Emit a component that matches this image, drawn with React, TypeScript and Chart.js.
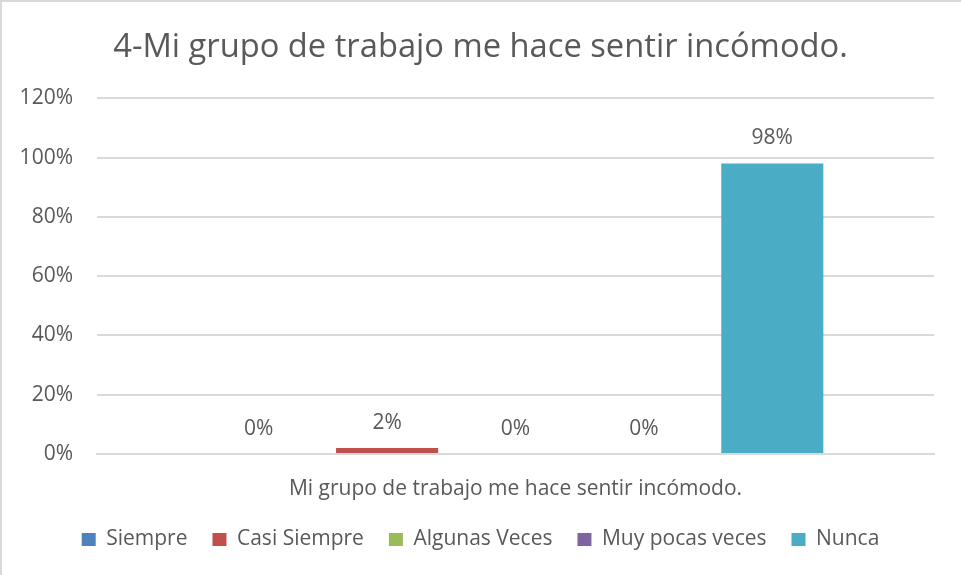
import React, { useEffect, useRef } from "react";
import { Chart, registerables } from "chart.js";

Chart.register(...registerables);

const TITLE = "4-Mi grupo de trabajo me hace sentir incómodo.";
const categories = ["Mi grupo de trabajo me hace sentir incómodo."];
const seriesNames = ["Siempre", "Casi Siempre", "Algunas Veces", "Muy pocas veces", "Nunca"];
const seriesValues = [0, 2, 0, 0, 98];
const seriesColors = ["#4F81BD", "#C0504D", "#9BBB59", "#8064A2", "#4BACC6"];
const yTicks = [0, 20, 40, 60, 80, 100, 120];

const FONT = "'Open Sans', 'Liberation Sans', sans-serif";
const TEXT = "#595959";

const dataLabels = {
  id: "dataLabels",
  afterDatasetsDraw(chart: any) {
    const ctx = chart.ctx;
    ctx.save();
    ctx.fillStyle = TEXT;
    ctx.font = `21px ${FONT}`;
    ctx.textAlign = "center";
    ctx.textBaseline = "middle";
    chart.data.datasets.forEach((ds: any, i: number) => {
      const meta = chart.getDatasetMeta(i);
      meta.data.forEach((bar: any, j: number) => {
        ctx.fillText(`${ds.data[j]}%`, bar.x, bar.y - 25);
      });
    });
    ctx.restore();
  },
};

const frame = {
  id: "frame",
  beforeDraw(chart: any) {
    const ctx = chart.ctx;
    ctx.save();
    ctx.fillStyle = "#ffffff";
    ctx.fillRect(0, 0, chart.width, chart.height);
    ctx.strokeStyle = "#d9d9d9";
    ctx.lineWidth = 2;
    ctx.beginPath();
    ctx.moveTo(1, chart.height);
    ctx.lineTo(1, 1);
    ctx.lineTo(chart.width, 1);
    ctx.stroke();
    ctx.restore();
  },
};

export default function App() {
  const ref = useRef<HTMLCanvasElement>(null);
  useEffect(() => {
    const chart = new Chart(ref.current!, {
      type: "bar",
      data: {
        labels: categories,
        datasets: seriesNames.map((name, i) => ({
          label: name,
          data: [seriesValues[i]],
          backgroundColor: seriesColors[i],
          borderWidth: 0,
          categoryPercentage: 0.767,
          barPercentage: 0.795,
        })),
      },
      options: {
        animation: false,
        responsive: false,
        maintainAspectRatio: false,
        layout: { padding: { left: 0, right: 0, top: 0, bottom: 15 } },
        plugins: {
          title: {
            display: true,
            text: TITLE,
            color: TEXT,
            font: { family: FONT, size: 32.7, weight: "normal" as any, lineHeight: 1.2 },
            padding: { top: 28, bottom: 31 },
          },
          legend: {
            position: "bottom",
            labels: {
              color: TEXT,
              font: { family: FONT, size: 21 },
              boxWidth: 14,
              boxHeight: 13,
              padding: 25,
            },
          },
          tooltip: { enabled: false },
        },
        scales: {
          x: {
            grid: { display: false, drawTicks: false },
            border: { display: true, color: "#d9d9d9", width: 2 },
            ticks: { color: TEXT, font: { family: FONT, size: 21 }, padding: 22 },
            afterFit(scale: any) {
              scale.height = 50;
            },
          },
          y: {
            min: 0,
            max: 120,
            afterBuildTicks(scale: any) {
              scale.ticks = yTicks.map((v) => ({ value: v }));
            },
            grid: { color: "#d9d9d9", lineWidth: 2, drawTicks: false },
            border: { display: false },
            ticks: {
              color: TEXT,
              font: { family: FONT, size: 21 },
              padding: 24,
              callback: (v: any) => `${v}%`,
            },
            afterFit(scale: any) {
              scale.width = 97;
            },
          },
          yr: {
            position: "right",
            min: 0,
            max: 120,
            grid: { display: false, drawTicks: false },
            border: { display: false },
            ticks: { display: false },
            afterFit(scale: any) {
              scale.width = 27;
            },
          },
        },
      },
      plugins: [frame, dataLabels],
    });
    return () => chart.destroy();
  }, []);
  return (
    <div style={{ position: "absolute", left: 0, top: 0, width: 961, height: 575 }}>
      <canvas ref={ref} width={961} height={575} style={{ display: "block" }} />
    </div>
  );
}
